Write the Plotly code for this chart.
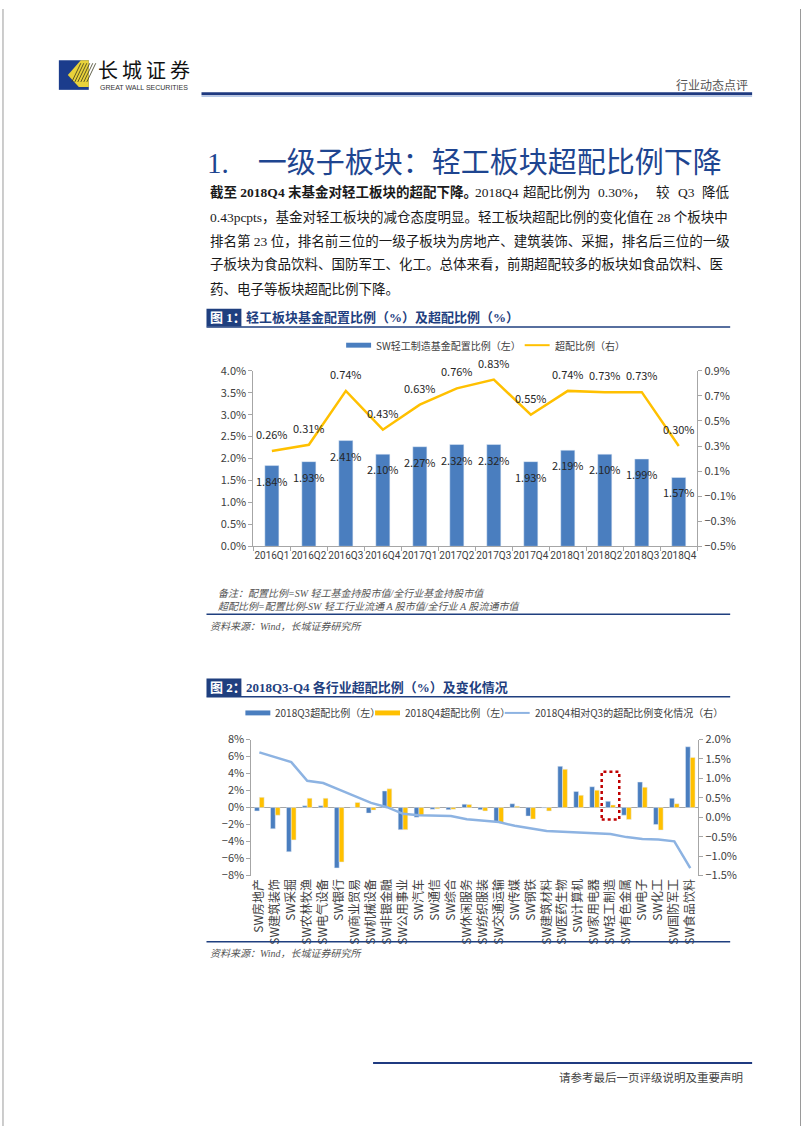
import plotly.graph_objects as go

# ---------------- data ----------------
quarters = ['2016Q1', '2016Q2', '2016Q3', '2016Q4', '2017Q1', '2017Q2',
            '2017Q3', '2017Q4', '2018Q1', '2018Q2', '2018Q3', '2018Q4']
alloc_ratio = [1.84, 1.93, 2.41, 2.10, 2.27, 2.32, 2.32, 1.93, 2.19, 2.10, 1.99, 1.57]
over_ratio = [0.26, 0.31, 0.74, 0.43, 0.63, 0.76, 0.83, 0.55, 0.74, 0.73, 0.73, 0.30]

industries = ['SW房地产', 'SW建筑装饰', 'SW采掘', 'SW农林牧渔', 'SW电气设备', 'SW银行',
              'SW商业贸易', 'SW机械设备', 'SW非银金融', 'SW公用事业', 'SW汽车', 'SW通信',
              'SW综合', 'SW休闲服务', 'SW纺织服装', 'SW交通运输', 'SW传媒', 'SW钢铁',
              'SW建筑材料', 'SW医药生物', 'SW计算机', 'SW家用电器', 'SW轻工制造', 'SW有色金属',
              'SW电子', 'SW化工', 'SW国防军工', 'SW食品饮料']
q3_over = [-0.4, -2.5, -5.2, 0.2, 0.2, -7.1, 0.05, -0.65, 1.95, -2.6, -1.15, -0.2, -0.25, 0.4,
           -0.25, -1.7, 0.45, -1.0, -0.05, 4.85, 1.9, 2.45, 0.73, -0.9, 3.0, -2.0, 1.1, 7.15]
q4_over = [1.2, -0.9, -3.8, 1.1, 1.1, -6.4, 0.6, -0.3, 2.2, -2.6, -0.9, -0.15, -0.2, 0.35,
           -0.4, -1.8, 0.15, -1.35, -0.4, 4.5, 1.45, 2.05, 0.30, -1.4, 2.4, -2.65, 0.45, 5.9]
change = [1.67, 1.55, 1.42, 0.94, 0.88, 0.71, 0.54, 0.37, 0.26, 0.09, 0.05, 0.04, 0.03, -0.05,
          -0.09, -0.12, -0.22, -0.28, -0.35, -0.37, -0.39, -0.42, -0.43, -0.51, -0.56, -0.57,
          -0.62, -1.31]

highlight = 'SW轻工制造'

# ---------------- styling ----------------
W, H = 802, 1133
BLUE_BAR = '#4A7EBF'
GOLD = '#FFC000'
LINE2 = '#8DB3E2'
NAVY = '#1F3F7F'
TITLE_BLUE = '#1E4590'
GRAY_TXT = '#404040'
CJK = 'Noto Sans CJK SC'
SERIF = 'Liberation Serif, Noto Sans CJK SC'


def px(x):
    return x / W


def py(y):
    return 1 - y / H


fig = go.Figure()

# ---------- chart 1 ----------
fig.add_trace(go.Bar(x=quarters, y=alloc_ratio, marker_color=BLUE_BAR, xaxis='x', yaxis='y',
                     showlegend=False, width=0.38))
fig.add_trace(go.Scatter(x=quarters, y=over_ratio, mode='lines', line=dict(color=GOLD, width=2.5),
                         xaxis='x', yaxis='y2', showlegend=False))

# ---------- chart 2 ----------
fig.add_trace(go.Bar(x=industries, y=q3_over, marker_color=BLUE_BAR, xaxis='x2', yaxis='y3',
                     showlegend=False, width=0.3, offset=-0.3))
fig.add_trace(go.Bar(x=industries, y=q4_over, marker_color=GOLD, xaxis='x2', yaxis='y3',
                     showlegend=False, width=0.3, offset=0.0))
fig.add_trace(go.Scatter(x=industries, y=change, mode='lines', line=dict(color=LINE2, width=2.5),
                         xaxis='x2', yaxis='y4', showlegend=False))

annotations = []
shapes = []

# data labels chart 1
for q, v in zip(quarters, alloc_ratio):
    annotations.append(dict(x=q, y=v, xref='x', yref='y', text=f'{v:.2f}%', showarrow=False,
                            yshift=-15, font=dict(family=CJK, size=11, color='#262626')))
for q, v in zip(quarters, over_ratio):
    annotations.append(dict(x=q, y=v, xref='x', yref='y2', text=f'{v:.2f}%', showarrow=False,
                            yshift=17, font=dict(family=CJK, size=11, color='#262626')))

# highlight box around light-industry bars in chart 2
hi = industries.index(highlight)
shapes.append(dict(type='rect', xref='x2', yref='y3', x0=hi - 0.55, x1=hi + 0.55, y0=-1.4, y1=4.2,
                   line=dict(color='#C00000', width=2.5, dash='dot')))

axis_common = dict(showgrid=False, zeroline=False, linecolor='#A6A6A6', linewidth=1,
                   tickfont=dict(family=CJK, size=11, color=GRAY_TXT), ticks='outside',
                   tickcolor='#A6A6A6', ticklen=4)

layout = dict(
    width=W, height=H, autosize=False,
    margin=dict(l=0, r=0, t=0, b=0, pad=0),
    paper_bgcolor='white', plot_bgcolor='white',
    barmode='group',
    xaxis=dict(domain=[px(252), px(697)], anchor='y', type='category', showline=True,
               tickson='boundaries', tickangle=0, showgrid=False, zeroline=False,
               linecolor='#A6A6A6', linewidth=1, ticks='outside', tickcolor='#A6A6A6', ticklen=4,
               tickfont=dict(family='Roboto', size=10, color=GRAY_TXT)),
    yaxis=dict(domain=[py(545), py(367)], anchor='x', range=[0, 4.0], dtick=0.5, tick0=0,
               tickformat='.1f', ticksuffix='%', showline=True, **axis_common),
    yaxis2=dict(overlaying='y', anchor='x', side='right', range=[-0.5, 0.9], dtick=0.2, tick0=-0.5,
                tickformat='.1f', ticksuffix='%', showline=True, **axis_common),
    xaxis2=dict(domain=[px(250), px(698)], anchor='y3', type='category', showline=False,
                showgrid=False, zeroline=False, ticks='', tickangle=-90,
                tickfont=dict(family=CJK, size=12, color=GRAY_TXT)),
    yaxis3=dict(domain=[py(879), py(741)], anchor='x2', range=[-8, 8], dtick=2, tick0=-8,
                ticksuffix='%', showline=True, showgrid=False, zeroline=True,
                zerolinecolor='#A6A6A6', zerolinewidth=1, linecolor='#A6A6A6',
                tickfont=dict(family=CJK, size=11, color=GRAY_TXT), ticks='outside',
                tickcolor='#A6A6A6', ticklen=4),
    yaxis4=dict(overlaying='y3', anchor='x2', side='right', range=[-1.5, 2.0], dtick=0.5,
                tick0=-1.5, tickformat='.1f', ticksuffix='%', showline=True, **axis_common),
)


def text(x, y, t, size, color, family=CJK, xanchor='left'):
    annotations.append(dict(xref='paper', yref='paper', x=px(x), y=py(y), text=t, showarrow=False,
                            xanchor=xanchor, yanchor='middle',
                            font=dict(family=family, size=size, color=color)))


def hline(x0, x1, y, color, width):
    shapes.append(dict(type='line', xref='paper', yref='paper', x0=px(x0), x1=px(x1),
                       y0=py(y), y1=py(y), line=dict(color=color, width=width)))


# ---------- page decorations ----------
shapes.append(dict(type='line', xref='paper', yref='paper', x0=px(1), x1=px(1), y0=0, y1=1,
                   line=dict(color='#9A9A9A', width=1)))
shapes.append(dict(type='line', xref='paper', yref='paper', x0=px(800.5), x1=px(800.5), y0=0, y1=1,
                   line=dict(color='#9A9A9A', width=1)))

# logo
shapes.append(dict(type='rect', xref='paper', yref='paper', x0=px(57), x1=px(87), y0=py(82), y1=py(52),
                   fillcolor='#1B3C8C', line=dict(width=0)))
shapes.append(dict(type='path', xref='paper', yref='paper',
                   path=f'M {px(87)} {py(52)} L {px(79)} {py(52)} L {px(66)} {py(67)} '
                        f'L {px(77)} {py(79)} L {px(87)} {py(79)} Z',
                   fillcolor='#E9D23A', line=dict(width=0)))
for i in range(6):
    xs = 70 + i * 3
    shapes.append(dict(type='line', xref='paper', yref='paper', x0=px(xs), y0=py(74),
                       x1=px(xs + 9), y1=py(55), line=dict(color='#3A3A20', width=0.8)))
text(94, 61, '长\u2009城\u2009证\u2009券', 20, '#111111')
text(96, 80, 'GREAT WALL SECURITIES', 7, '#333333', family='Liberation Sans')
text(750, 77, '行业动态点评', 12, '#555555', xanchor='right')
hline(200, 752, 86, '#1F3A80', 3)
hline(200, 752, 88.5, '#9DB7E0', 1)

# section title
text(204, 156, '1.&nbsp;&nbsp;&nbsp;&nbsp;一级子板块：轻工板块超配比例下降', 29, TITLE_BLUE, family=SERIF)

# paragraph line 1 (justified by segments)
line1_segments = [(207, '<b>截至 2018Q4 末基金对轻工板块的超配下降。</b>'),
                  (472, '2018Q4'), (520, '超配比例为'), (595, '0.30%，'), (654, '较'),
                  (676, 'Q3'), (700, '降低')]
for x, t in line1_segments:
    text(x, 186, t, 13.5, '#1A1A1A', family=SERIF)

para = [
    '0.43pcpts，基金对轻工板块的减仓态度明显。轻工板块超配比例的变化值在 28 个板块中',
    '排名第 23 位，排名前三位的一级子板块为房地产、建筑装饰、采掘，排名后三位的一级',
    '子板块为食品饮料、国防军工、化工。总体来看，前期超配较多的板块如食品饮料、医',
    '药、电子等板块超配比例下降。',
]
para_y = [211, 235, 259, 284]
for t, yy in zip(para, para_y):
    text(207, yy, t, 13.5, '#1A1A1A', family=SERIF)


def fig_header(y, label, title):
    shapes.append(dict(type='rect', xref='paper', yref='paper', x0=px(205), x1=px(240),
                       y0=py(y + 9), y1=py(y - 9), fillcolor=NAVY, line=dict(width=0)))
    text(207, y, f'<b>{label}</b>', 13, 'white', family=SERIF)
    text(243, y, f'<b>{title}</b>', 13, NAVY, family=SERIF)
    hline(205, 730, y + 9.5, NAVY, 1.5)


fig_header(313, '图 1：', '轻工板块基金配置比例（%）及超配比例（%）')
fig_header(688, '图 2：', '2018Q3-Q4 各行业超配比例（%）及变化情况')


def legend_bar(x0, y, color, t):
    shapes.append(dict(type='rect', xref='paper', yref='paper', x0=px(x0), x1=px(x0 + 25),
                       y0=py(y + 2.5), y1=py(y - 2.5), fillcolor=color, line=dict(width=0)))
    text(x0 + 28, y, t, 10, GRAY_TXT)


def legend_line(x0, y, color, t):
    hline(x0, x0 + 25, y, color, 2)
    text(x0 + 28, y, t, 10, GRAY_TXT)


legend_bar(345, 341, BLUE_BAR, 'SW轻工制造基金配置比例（左）')
legend_line(524, 341, GOLD, '超配比例（右）')

legend_bar(244, 714, BLUE_BAR, '2018Q3超配比例（左）')
legend_bar(374, 714, GOLD, '2018Q4超配比例（左）')
legend_line(504, 714, LINE2, '2018Q4相对Q3的超配比例变化情况（右）')

# notes chart 1
text(215, 593, '<i>备注：配置比例=SW 轻工基金持股市值/全行业基金持股市值</i>', 10, '#555555', family=SERIF)
text(215, 606, '<i>超配比例=配置比例-SW 轻工行业流通 A 股市值/全行业 A 股流通市值</i>', 10, '#555555', family=SERIF)
hline(205, 730, 614, NAVY, 1.5)
text(207, 626, '<i>资料来源：Wind，长城证券研究所</i>', 10, '#555555', family=SERIF)

# source chart 2
hline(205, 730, 946, NAVY, 1.5)
text(207, 958, '<i>资料来源：Wind，长城证券研究所</i>', 10, '#555555', family=SERIF)

# footer
hline(372, 752, 1069, '#1F3A80', 2)
text(745, 1083, '请参考最后一页评级说明及重要声明', 11.5, '#444444', xanchor='right')

layout['annotations'] = annotations
layout['shapes'] = shapes
fig.update_layout(**layout)

fig.write_html("out.html")
